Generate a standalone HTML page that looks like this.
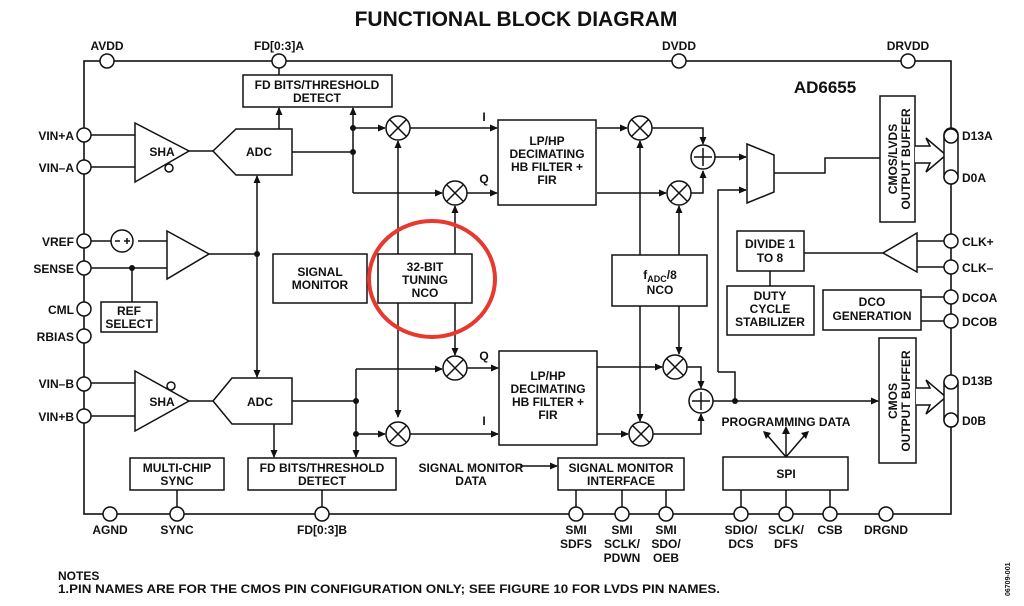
<!DOCTYPE html>
<html><head><meta charset="utf-8"><style>
body{margin:0;background:#fff;width:1024px;height:601px;overflow:hidden}
svg text{font-family:"Liberation Sans",Arial,sans-serif;font-weight:bold;fill:#111}
</style></head><body>
<svg width="1024" height="601" viewBox="0 0 1024 601" xmlns="http://www.w3.org/2000/svg">
<defs><marker id="a" markerWidth="8" markerHeight="8" refX="7" refY="4" orient="auto" markerUnits="userSpaceOnUse"><path d="M0,0.5 L8,4 L0,7.5z" fill="#111"/></marker>
<g id="m"><circle cx="0" cy="0" r="12"/><path d="M-8.5 -8.5L8.5 8.5M8.5 -8.5L-8.5 8.5"/></g>
</defs>
<text x="516" y="26" font-size="21" text-anchor="middle">FUNCTIONAL BLOCK DIAGRAM</text>
<g stroke="#111" stroke-width="1.6" fill="none">
<rect x="84" y="61" width="867" height="453"/>
</g>
<g font-size="12" text-anchor="middle">
<text x="107" y="50">AVDD</text><text x="279" y="50">FD[0:3]A</text><text x="679" y="50">DVDD</text><text x="908" y="50">DRVDD</text>
<text x="825" y="93" font-size="17">AD6655</text>
</g>
<g font-size="12" text-anchor="end">
<text x="74" y="140">VIN+A</text><text x="74" y="172">VIN–A</text><text x="74" y="246">VREF</text><text x="74" y="273">SENSE</text>
<text x="74" y="314">CML</text><text x="74" y="341">RBIAS</text><text x="74" y="388">VIN–B</text><text x="74" y="421">VIN+B</text>
</g>
<g font-size="12">
<text x="962" y="140">D13A</text><text x="962" y="182">D0A</text><text x="962" y="246">CLK+</text><text x="962" y="272">CLK–</text>
<text x="962" y="302">DCOA</text><text x="962" y="326">DCOB</text><text x="962" y="385">D13B</text><text x="962" y="425">D0B</text>
</g>
<g font-size="12" text-anchor="middle">
<text x="110" y="534">AGND</text><text x="177" y="534">SYNC</text><text x="322" y="534">FD[0:3]B</text>
<text x="576" y="534">SMI</text><text x="576" y="548">SDFS</text>
<text x="622" y="534">SMI</text><text x="622" y="548">SCLK/</text><text x="622" y="562">PDWN</text>
<text x="666" y="534">SMI</text><text x="666" y="548">SDO/</text><text x="666" y="562">OEB</text>
<text x="741" y="534">SDIO/</text><text x="741" y="548">DCS</text>
<text x="786" y="534">SCLK/</text><text x="786" y="548">DFS</text>
<text x="830" y="534">CSB</text><text x="886" y="534">DRGND</text>
</g>
<text x="58" y="580" font-size="12">NOTES</text>
<text x="58" y="593" font-size="12" textLength="662" lengthAdjust="spacingAndGlyphs">1.PIN NAMES ARE FOR THE CMOS PIN CONFIGURATION ONLY; SEE FIGURE 10 FOR LVDS PIN NAMES.</text>
<text x="1010" y="596" font-size="7" font-weight="normal" transform="rotate(-90 1010 596)">06709-001</text>

<g stroke="#111" stroke-width="1.5" fill="none">
<path d="M84 135H135M84 167H135M189 151H213"/>
<path d="M84 383H135M84 416H135M189 401H213"/>
<path d="M84 241H116M138 241H167M84 268H167M132 268V302"/>
<path d="M209 254H257M257 254V176" marker-end="url(#a)"/>
<path d="M257 254V377" marker-end="url(#a)"/>
<path d="M135 123L189 151L135 182Z" fill="#fff"/>
<path d="M135 371L189 401L135 431Z" fill="#fff"/>
<path d="M167 231L209 254L167 279Z" fill="#fff"/>
<path d="M213 151L236 129H292V175H236Z" fill="#fff"/>
<path d="M213 401L232 378H292V424H232Z" fill="#fff"/>
<rect x="243" y="75" width="149" height="32" fill="#fff"/>
<rect x="248" y="458" width="148" height="32" fill="#fff"/>
<rect x="101" y="302" width="56" height="30" fill="#fff"/>
<rect x="273" y="254" width="94" height="49"/>
<rect x="378" y="254" width="94" height="49"/>
<rect x="498" y="120" width="98" height="85"/>
<rect x="499" y="351" width="98" height="94"/>
<rect x="612" y="255" width="95" height="51"/>
<rect x="737" y="231" width="67" height="40"/>
<rect x="727" y="286" width="87" height="49"/>
<rect x="823" y="290" width="98" height="40"/>
<rect x="880" y="96" width="35" height="126"/>
<rect x="879" y="338" width="37" height="125"/>
<rect x="130" y="458" width="94" height="32"/>
<rect x="558" y="458" width="126" height="32"/>
<rect x="723" y="457" width="125" height="33"/>
<path d="M279 129V108" marker-end="url(#a)"/>
<path d="M279 61V75"/>
<path d="M292 152H353M353 193V108" marker-end="url(#a)"/>
<path d="M353 128H385" marker-end="url(#a)"/>
<path d="M353 193H442" marker-end="url(#a)"/>
<path d="M410 128H497" marker-end="url(#a)"/>
<path d="M467 193H497" marker-end="url(#a)"/>
<path d="M398 254V141" marker-end="url(#a)"/>
<path d="M455 254V206" marker-end="url(#a)"/>
<path d="M455 303V355" marker-end="url(#a)"/>
<path d="M398 303V417" marker-end="url(#a)"/>
<path d="M274 424V457" marker-end="url(#a)"/>
<path d="M292 401H356M356 369V457" marker-end="url(#a)"/>
<path d="M356 369H442" marker-end="url(#a)"/>
<path d="M356 434H385" marker-end="url(#a)"/>
<path d="M467 368H498" marker-end="url(#a)"/>
<path d="M410 434H498" marker-end="url(#a)"/>
<path d="M597 128H627" marker-end="url(#a)"/>
<path d="M597 193H666" marker-end="url(#a)"/>
<path d="M652 128H703V144" marker-end="url(#a)"/>
<path d="M691 193H703V171" marker-end="url(#a)"/>
<path d="M715 157H746" marker-end="url(#a)"/>
<path d="M640 255V141" marker-end="url(#a)"/>
<path d="M679 255V206" marker-end="url(#a)"/>
<path d="M679 306V354" marker-end="url(#a)"/>
<path d="M640 306V421" marker-end="url(#a)"/>
<path d="M747 144L774 155V192L747 203Z" fill="#fff"/>
<path d="M774 173H825V158H880"/>
<path d="M718 372V190H746" marker-end="url(#a)"/>
<path d="M718 372H735V401"/>
<path d="M597 367H662" marker-end="url(#a)"/>
<path d="M597 434H628" marker-end="url(#a)"/>
<path d="M687 367H701V388" marker-end="url(#a)"/>
<path d="M653 434H701V414" marker-end="url(#a)"/>
<path d="M713 401H878" marker-end="url(#a)"/>
<path d="M917 241H951M917 267H951M804 253H883M770 271V286"/>
<path d="M917 233L883 253L917 272Z" fill="#fff"/>
<path d="M921 297H951M921 321H951"/>
<path d="M915 146H930L926 138L946 155L926 172L930 163H915" fill="#fff"/>
<path d="M916 388H930L926 380L946 397L926 414L930 405H916" fill="#fff"/>
<rect x="944" y="128" width="14" height="56" rx="7" fill="#fff"/>
<rect x="944" y="376" width="14" height="51" rx="7" fill="#fff"/>
<path d="M177 490V514M322 490V514M576 490V514M622 490V514M666 490V514M741 490V514M786 490V514M830 490V514"/>
<path d="M520 466H557" marker-end="url(#a)"/>
<path d="M786 457L768 436M786 457V431M786 457L804 436"/>
</g>
<g fill="#111">
<path d="M763 431L771 433L766 439Z"/><path d="M786 426L790 434H782Z"/><path d="M809 431L806 439L801 433Z"/>
<circle cx="353" cy="128" r="3"/><circle cx="353" cy="152" r="3"/><circle cx="257" cy="254" r="3"/><circle cx="132" cy="268" r="3"/>
<circle cx="356" cy="401" r="3"/><circle cx="356" cy="434" r="3"/><circle cx="735" cy="401" r="3"/>
</g>
<g stroke="#111" stroke-width="1.5" fill="#fff">
<use href="#m" x="398" y="128"/><use href="#m" x="455" y="193"/><use href="#m" x="455" y="368"/><use href="#m" x="398" y="434"/>
<use href="#m" x="640" y="128"/><use href="#m" x="679" y="193"/><use href="#m" x="675" y="367"/><use href="#m" x="641" y="434"/>
<circle cx="703" cy="157" r="12"/><path d="M703 148V166M694 157H712"/>
<circle cx="701" cy="401" r="12"/><path d="M701 392V410M692 401H710"/>
<circle cx="122" cy="241" r="11"/><path d="M115 241H120M124 241H130M127 238V244"/>
</g>
<g stroke="#111" stroke-width="1.5" fill="#fff">
<circle cx="107" cy="61" r="7"/><circle cx="279" cy="61" r="7"/><circle cx="679" cy="61" r="7"/><circle cx="908" cy="61" r="7"/>
<circle cx="84" cy="135" r="7"/><circle cx="84" cy="167" r="7"/><circle cx="84" cy="241" r="7"/><circle cx="84" cy="268" r="7"/>
<circle cx="84" cy="309" r="7"/><circle cx="84" cy="336" r="7"/><circle cx="84" cy="384" r="7"/><circle cx="84" cy="416" r="7"/>
<circle cx="951" cy="136" r="7"/><circle cx="951" cy="177" r="7"/><circle cx="951" cy="241" r="7"/><circle cx="951" cy="267" r="7"/>
<circle cx="951" cy="297" r="7"/><circle cx="951" cy="321" r="7"/><circle cx="951" cy="382" r="7"/><circle cx="951" cy="420" r="7"/>
<circle cx="110" cy="514" r="7"/><circle cx="177" cy="514" r="7"/><circle cx="322" cy="514" r="7"/><circle cx="576" cy="514" r="7"/>
<circle cx="622" cy="514" r="7"/><circle cx="666" cy="514" r="7"/><circle cx="741" cy="514" r="7"/><circle cx="786" cy="514" r="7"/>
<circle cx="830" cy="514" r="7"/><circle cx="886" cy="514" r="7"/>
<circle cx="169" cy="168" r="4"/><circle cx="171" cy="386" r="4"/>
</g>
<g font-size="12" text-anchor="middle">
<text x="317" y="89">FD BITS/THRESHOLD</text><text x="317" y="102">DETECT</text>
<text x="322" y="472">FD BITS/THRESHOLD</text><text x="322" y="485">DETECT</text>
<text x="162" y="156">SHA</text><text x="162" y="406">SHA</text>
<text x="259" y="156">ADC</text><text x="260" y="406">ADC</text>
<text x="129" y="315">REF</text><text x="129" y="328">SELECT</text>
<text x="320" y="276">SIGNAL</text><text x="320" y="289">MONITOR</text>
<text x="425" y="271">32-BIT</text><text x="425" y="284">TUNING</text><text x="425" y="297">NCO</text>
<text x="547" y="145">LP/HP</text><text x="547" y="158">DECIMATING</text><text x="547" y="171">HB FILTER +</text><text x="547" y="184">FIR</text>
<text x="548" y="380">LP/HP</text><text x="548" y="393">DECIMATING</text><text x="548" y="406">HB FILTER +</text><text x="548" y="419">FIR</text>
<text x="660" y="279">f<tspan font-size="9" dy="3">ADC</tspan><tspan dy="-3">/8</tspan></text><text x="660" y="294">NCO</text>
<text x="770" y="248">DIVIDE 1</text><text x="770" y="262">TO 8</text>
<text x="770" y="300">DUTY</text><text x="770" y="313">CYCLE</text><text x="770" y="326">STABILIZER</text>
<text x="872" y="306">DCO</text><text x="872" y="320">GENERATION</text>
<text x="177" y="472">MULTI-CHIP</text><text x="177" y="485">SYNC</text>
<text x="621" y="472">SIGNAL MONITOR</text><text x="621" y="485">INTERFACE</text>
<text x="471" y="472">SIGNAL MONITOR</text><text x="471" y="485">DATA</text>
<text x="786" y="478">SPI</text>
<text x="786" y="426">PROGRAMMING DATA</text>
<text x="484" y="121">I</text><text x="484" y="183">Q</text><text x="484" y="360">Q</text><text x="484" y="425">I</text>
<text x="0" y="0" transform="translate(897 159) rotate(-90)">CMOS/LVDS</text>
<text x="0" y="0" transform="translate(910 159) rotate(-90)">OUTPUT BUFFER</text>
<text x="0" y="0" transform="translate(897 401) rotate(-90)">CMOS</text>
<text x="0" y="0" transform="translate(910 401) rotate(-90)">OUTPUT BUFFER</text>
</g>
<ellipse cx="432" cy="279" rx="63" ry="58" fill="none" stroke="#e8392f" stroke-width="4"/>
</svg>
</body></html>
